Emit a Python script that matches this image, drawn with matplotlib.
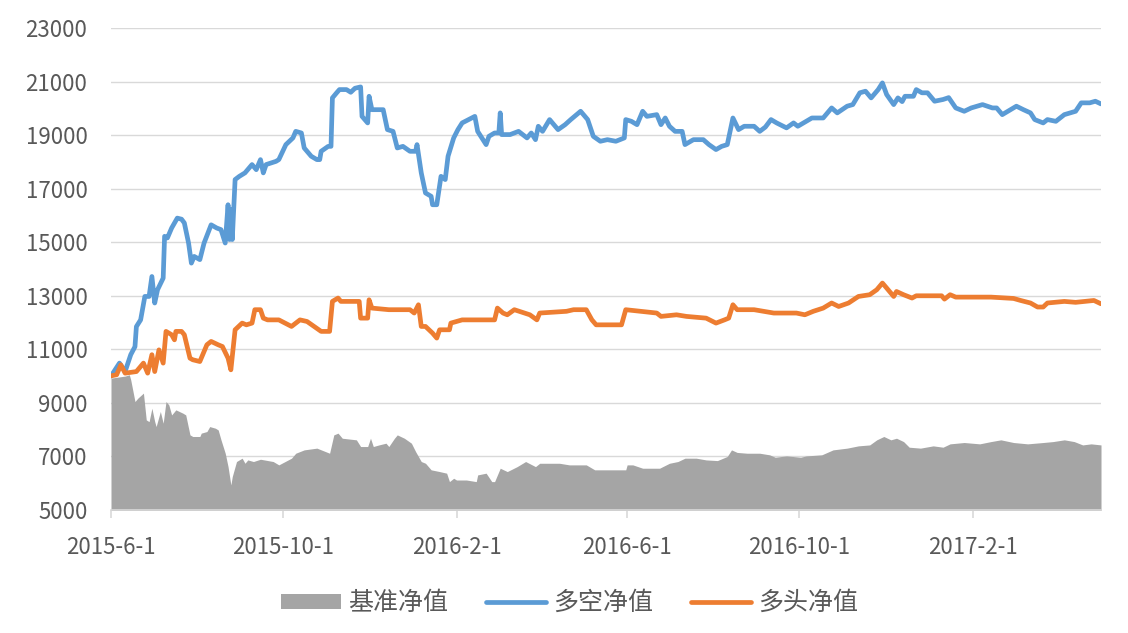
import matplotlib
matplotlib.use("Agg")
import matplotlib.pyplot as plt
import matplotlib.dates as mdates
import pandas as pd

plt.rcParams['font.family'] = ['Noto Sans CJK SC', 'DejaVu Sans']

# ---------------- data ----------------
blue_dates = ["2015-06-01","2015-06-07","2015-06-11","2015-06-15","2015-06-18","2015-06-19","2015-06-22","2015-06-25",
 "2015-06-28","2015-06-30","2015-07-02","2015-07-04","2015-07-08","2015-07-09","2015-07-11","2015-07-14","2015-07-18",
 "2015-07-21","2015-07-23","2015-07-26","2015-07-28","2015-07-30","2015-08-03","2015-08-06","2015-08-11","2015-08-15",
 "2015-08-18","2015-08-21","2015-08-23","2015-08-24","2015-08-25","2015-08-26","2015-08-28","2015-08-31","2015-09-04",
 "2015-09-09","2015-09-12","2015-09-15","2015-09-17","2015-09-19","2015-09-26","2015-09-28","2015-10-03","2015-10-08",
 "2015-10-10","2015-10-14","2015-10-16","2015-10-21","2015-10-25","2015-10-27","2015-10-28","2015-11-02","2015-11-04",
 "2015-11-05","2015-11-08","2015-11-10","2015-11-15","2015-11-18","2015-11-21","2015-11-25","2015-11-26","2015-11-30",
 "2015-12-01","2015-12-03","2015-12-11","2015-12-14","2015-12-18","2015-12-21","2015-12-25","2015-12-30","2016-01-03",
 "2016-01-04","2016-01-07","2016-01-10","2016-01-14","2016-01-15","2016-01-18","2016-01-21","2016-01-24","2016-01-26",
 "2016-01-30","2016-02-02","2016-02-05","2016-02-14","2016-02-16","2016-02-22","2016-02-24","2016-02-28","2016-03-02",
 "2016-03-03","2016-03-04","2016-03-10","2016-03-16","2016-03-22","2016-03-25","2016-03-28","2016-03-30","2016-04-02",
 "2016-04-07","2016-04-13","2016-04-18","2016-04-22","2016-04-29","2016-05-04","2016-05-08","2016-05-13","2016-05-18",
 "2016-05-24","2016-05-30","2016-05-31","2016-06-04","2016-06-08","2016-06-12","2016-06-15","2016-06-22","2016-06-25",
 "2016-06-28","2016-07-01","2016-07-05","2016-07-10","2016-07-12","2016-07-18","2016-07-25","2016-07-29","2016-08-03",
 "2016-08-07","2016-08-11","2016-08-15","2016-08-19","2016-08-23","2016-08-30","2016-09-03","2016-09-07","2016-09-11",
 "2016-09-15","2016-09-22","2016-09-27","2016-09-30","2016-10-10","2016-10-18","2016-10-24","2016-10-28","2016-11-04",
 "2016-11-08","2016-11-13","2016-11-17","2016-11-21","2016-11-26","2016-11-29","2016-12-02","2016-12-07","2016-12-10",
 "2016-12-13","2016-12-15","2016-12-21","2016-12-23","2016-12-27","2016-12-31","2017-01-05","2017-01-11","2017-01-15",
 "2017-01-20","2017-01-26","2017-01-31","2017-02-08","2017-02-15","2017-02-18","2017-02-22","2017-02-26","2017-03-04",
 "2017-03-09","2017-03-14","2017-03-17","2017-03-23","2017-03-26","2017-04-01","2017-04-07","2017-04-15","2017-04-19",
 "2017-04-25","2017-04-29","2017-05-03"]
blue_values = [10000,10485,10170,10800,11100,11850,12100,12975,12975,13720,12730,13225,13660,15220,15160,15530,15900,
 15860,15720,14970,14220,14470,14350,14970,15650,15530,15470,14970,16400,15100,16215,15100,17340,17460,17590,17900,
 17710,18085,17590,17900,18020,18085,18645,18895,19140,19080,18520,18210,18085,18085,18395,18580,18580,20390,20580,
 20700,20700,20600,20750,20800,19700,19455,20450,19950,19950,19205,19140,18520,18580,18395,18395,18645,17590,16840,
 16715,16400,16400,17460,17340,18210,18895,19205,19455,19700,19140,18645,18955,19080,19080,19830,19020,19020,19140,
 18895,19080,18830,19330,19140,19580,19205,19390,19580,19890,19580,18955,18770,18830,18770,18895,19580,19515,19390,
 19890,19700,19765,19390,19640,19330,19140,19140,18645,18830,18830,18645,18460,18580,18645,19640,19205,19330,19330,
 19140,19300,19580,19455,19270,19455,19330,19640,19640,20015,19830,20080,20140,20580,20640,20390,20700,20950,20515,
 20140,20390,20250,20450,20450,20700,20580,20580,20265,20330,20400,20015,19890,20015,20140,20015,20015,19765,19890,
 20080,19950,19830,19580,19455,19580,19515,19765,19890,20205,20205,20265,20165]

orange_dates = ["2015-06-01","2015-06-05","2015-06-08","2015-06-11","2015-06-19","2015-06-24","2015-06-27","2015-06-30",
 "2015-07-02","2015-07-05","2015-07-08","2015-07-10","2015-07-14","2015-07-16","2015-07-17","2015-07-21","2015-07-23",
 "2015-07-27","2015-07-29","2015-08-03","2015-08-08","2015-08-11","2015-08-16","2015-08-19","2015-08-23","2015-08-25",
 "2015-08-28","2015-09-02","2015-09-05","2015-09-09","2015-09-11","2015-09-15","2015-09-17","2015-09-20","2015-09-28",
 "2015-10-07","2015-10-13","2015-10-18","2015-10-23","2015-10-28","2015-11-03","2015-11-05","2015-11-09","2015-11-11",
 "2015-11-24","2015-11-25","2015-11-30","2015-12-01","2015-12-03","2015-12-15","2015-12-30","2016-01-02","2016-01-05",
 "2016-01-07","2016-01-10","2016-01-15","2016-01-18","2016-01-20","2016-01-27","2016-01-28","2016-02-05","2016-02-28",
 "2016-03-01","2016-03-05","2016-03-08","2016-03-13","2016-03-24","2016-03-29","2016-03-31","2016-04-19","2016-04-24",
 "2016-05-03","2016-05-07","2016-05-10","2016-05-28","2016-05-31","2016-06-22","2016-06-25","2016-07-06","2016-07-13",
 "2016-07-27","2016-08-03","2016-08-09","2016-08-12","2016-08-15","2016-08-18","2016-08-30","2016-09-13","2016-09-29",
 "2016-10-05","2016-10-11","2016-10-18","2016-10-24","2016-10-29","2016-11-05","2016-11-12","2016-11-20","2016-11-25",
 "2016-11-29","2016-12-02","2016-12-07","2016-12-09","2016-12-14","2016-12-20","2016-12-23","2017-01-10","2017-01-12",
 "2017-01-16","2017-01-20","2017-02-14","2017-03-02","2017-03-07","2017-03-14","2017-03-19","2017-03-23","2017-03-26",
 "2017-04-07","2017-04-15","2017-04-28","2017-05-03"]
orange_values = [10010,10050,10420,10110,10170,10485,10110,10800,10170,10980,10485,11670,11545,11355,11670,11670,11545,
 10670,10610,10545,11170,11295,11170,11105,10670,10235,11730,11980,11915,11980,12480,12480,12165,12100,12100,11855,
 12100,12040,11855,11670,11670,12790,12915,12790,12790,12165,12165,12850,12540,12480,12480,12355,12665,11855,11855,
 11605,11420,11730,11730,11980,12100,12100,12540,12355,12290,12480,12290,12100,12355,12420,12480,12480,12100,11915,
 11915,12480,12355,12230,12290,12230,12165,11980,12100,12165,12665,12480,12480,12355,12355,12290,12420,12540,12730,
 12600,12730,12975,13040,13225,13475,13290,12975,13160,13040,12915,13000,13000,12875,13040,12950,12950,12900,12825,
 12730,12580,12580,12730,12790,12755,12825,12700]

gray_dates = ["2015-06-01","2015-06-11","2015-06-14","2015-06-15","2015-06-18","2015-06-20","2015-06-24","2015-06-26",
 "2015-06-28","2015-06-30","2015-07-02","2015-07-03","2015-07-05","2015-07-06","2015-07-08","2015-07-10","2015-07-12",
 "2015-07-14","2015-07-17","2015-07-22","2015-07-24","2015-07-27","2015-07-29","2015-08-03","2015-08-04","2015-08-08",
 "2015-08-10","2015-08-14","2015-08-16","2015-08-18","2015-08-21","2015-08-23","2015-08-25","2015-08-26","2015-08-29",
 "2015-09-02","2015-09-04","2015-09-06","2015-09-10","2015-09-15","2015-09-24","2015-09-28","2015-10-07","2015-10-10",
 "2015-10-16","2015-10-25","2015-11-03","2015-11-06","2015-11-09","2015-11-12","2015-11-22","2015-11-25","2015-11-30",
 "2015-12-02","2015-12-04","2015-12-08","2015-12-13","2015-12-15","2015-12-19","2015-12-21","2015-12-26","2015-12-31",
 "2016-01-03","2016-01-07","2016-01-10","2016-01-14","2016-01-20","2016-01-25","2016-01-27","2016-01-30","2016-02-01",
 "2016-02-08","2016-02-15","2016-02-16","2016-02-22","2016-02-26","2016-02-28","2016-03-03","2016-03-08","2016-03-15",
 "2016-03-21","2016-03-28","2016-03-31","2016-04-14","2016-04-21","2016-05-03","2016-05-09","2016-05-31","2016-06-01",
 "2016-06-05","2016-06-12","2016-06-24","2016-07-01","2016-07-07","2016-07-12","2016-07-20","2016-07-27","2016-08-04",
 "2016-08-11","2016-08-14","2016-08-18","2016-08-25","2016-09-03","2016-09-10","2016-09-14","2016-09-22","2016-10-02",
 "2016-10-06","2016-10-17","2016-10-25","2016-11-04","2016-11-12","2016-11-20","2016-11-25","2016-11-30","2016-12-05",
 "2016-12-09","2016-12-14","2016-12-18","2016-12-26","2017-01-04","2017-01-11","2017-01-16","2017-01-26","2017-02-06",
 "2017-02-14","2017-02-21","2017-03-02","2017-03-12","2017-03-23","2017-03-30","2017-04-07","2017-04-14","2017-04-20",
 "2017-04-26","2017-05-03"]
gray_values = [9925,10000,10050,9860,9050,9175,9365,8365,8300,8800,8300,8115,8490,8680,8240,9050,8925,8550,8740,8615,
 8550,7805,7745,7745,7870,7930,8115,8055,7990,7620,7120,6620,5935,6250,6810,6935,6745,6870,6810,6895,6810,6685,6935,
 7120,7245,7310,7120,7805,7870,7680,7620,7370,7370,7680,7370,7430,7495,7370,7680,7805,7680,7495,7180,6810,6745,6500,
 6435,6375,6060,6185,6120,6120,6060,6310,6375,6060,6060,6560,6435,6620,6810,6620,6745,6745,6685,6685,6500,6500,6685,
 6685,6560,6560,6745,6810,6935,6935,6870,6845,7000,7245,7150,7120,7120,7060,6970,7020,6970,7020,7060,7245,7310,7395,
 7430,7620,7745,7620,7680,7555,7345,7310,7395,7345,7470,7520,7470,7555,7620,7520,7470,7520,7555,7620,7555,7430,7470,
 7430]

x_ticks = ["2015-06-01", "2015-10-01", "2016-02-01", "2016-06-01", "2016-10-01", "2017-02-01"]
x_tick_labels = ["2015-6-1", "2015-10-1", "2016-2-1", "2016-6-1", "2016-10-1", "2017-2-1"]
y_ticks = [5000, 7000, 9000, 11000, 13000, 15000, 17000, 19000, 21000, 23000]
series_names = ["基准净值", "多空净值", "多头净值"]

# ---------------- plot ----------------
GRAY = "#A5A5A5"
BLUE = "#5B9BD5"
ORANGE = "#ED7D31"
TXT = "#595959"
GRID = "#D9D9D9"

fig = plt.figure(figsize=(11.28, 6.33), dpi=100)
ax = fig.add_axes([111/1128, 1 - 510/633, (1101 - 111)/1128, (510 - 28)/633])

gd = pd.to_datetime(gray_dates)
bd = pd.to_datetime(blue_dates)
od = pd.to_datetime(orange_dates)

ax.fill_between(gd, gray_values, 0, color=GRAY, lw=0, label=series_names[0], zorder=2)
ax.plot(bd, blue_values, color=BLUE, lw=3.4, solid_joinstyle="round", solid_capstyle="round",
        label=series_names[1], zorder=3)
ax.plot(od, orange_values, color=ORANGE, lw=3.4, solid_joinstyle="round", solid_capstyle="round",
        label=series_names[2], zorder=4)

ax.set_ylim(5000, 23000)
ax.set_xlim(pd.Timestamp("2015-06-01"), pd.Timestamp("2017-05-03"))
ax.set_yticks(y_ticks)
ax.set_yticklabels([str(v) for v in y_ticks])
ax.set_xticks(pd.to_datetime(x_ticks))
ax.set_xticklabels(x_tick_labels)

ax.grid(axis="y", color=GRID, lw=1.0, zorder=0)
ax.set_axisbelow(True)
for s in ["top", "right", "left"]:
    ax.spines[s].set_visible(False)
ax.spines["bottom"].set_color(GRID)
ax.spines["bottom"].set_linewidth(1.2)
ax.spines["bottom"].set_zorder(5)

ax.tick_params(axis="y", length=0, pad=17, labelsize=16, labelcolor=TXT)
ax.tick_params(axis="x", length=6, width=1.2, color=GRID, pad=13, labelsize=16, labelcolor=TXT)

leg = fig.legend(loc="center", bbox_to_anchor=(0.505, 1 - 603/633), ncol=3, frameon=False,
                 fontsize=18, handlelength=2.4, handleheight=0.55, handletextpad=0.3,
                 columnspacing=1.5, labelcolor=TXT)

fig.savefig("out.png", dpi=100)
